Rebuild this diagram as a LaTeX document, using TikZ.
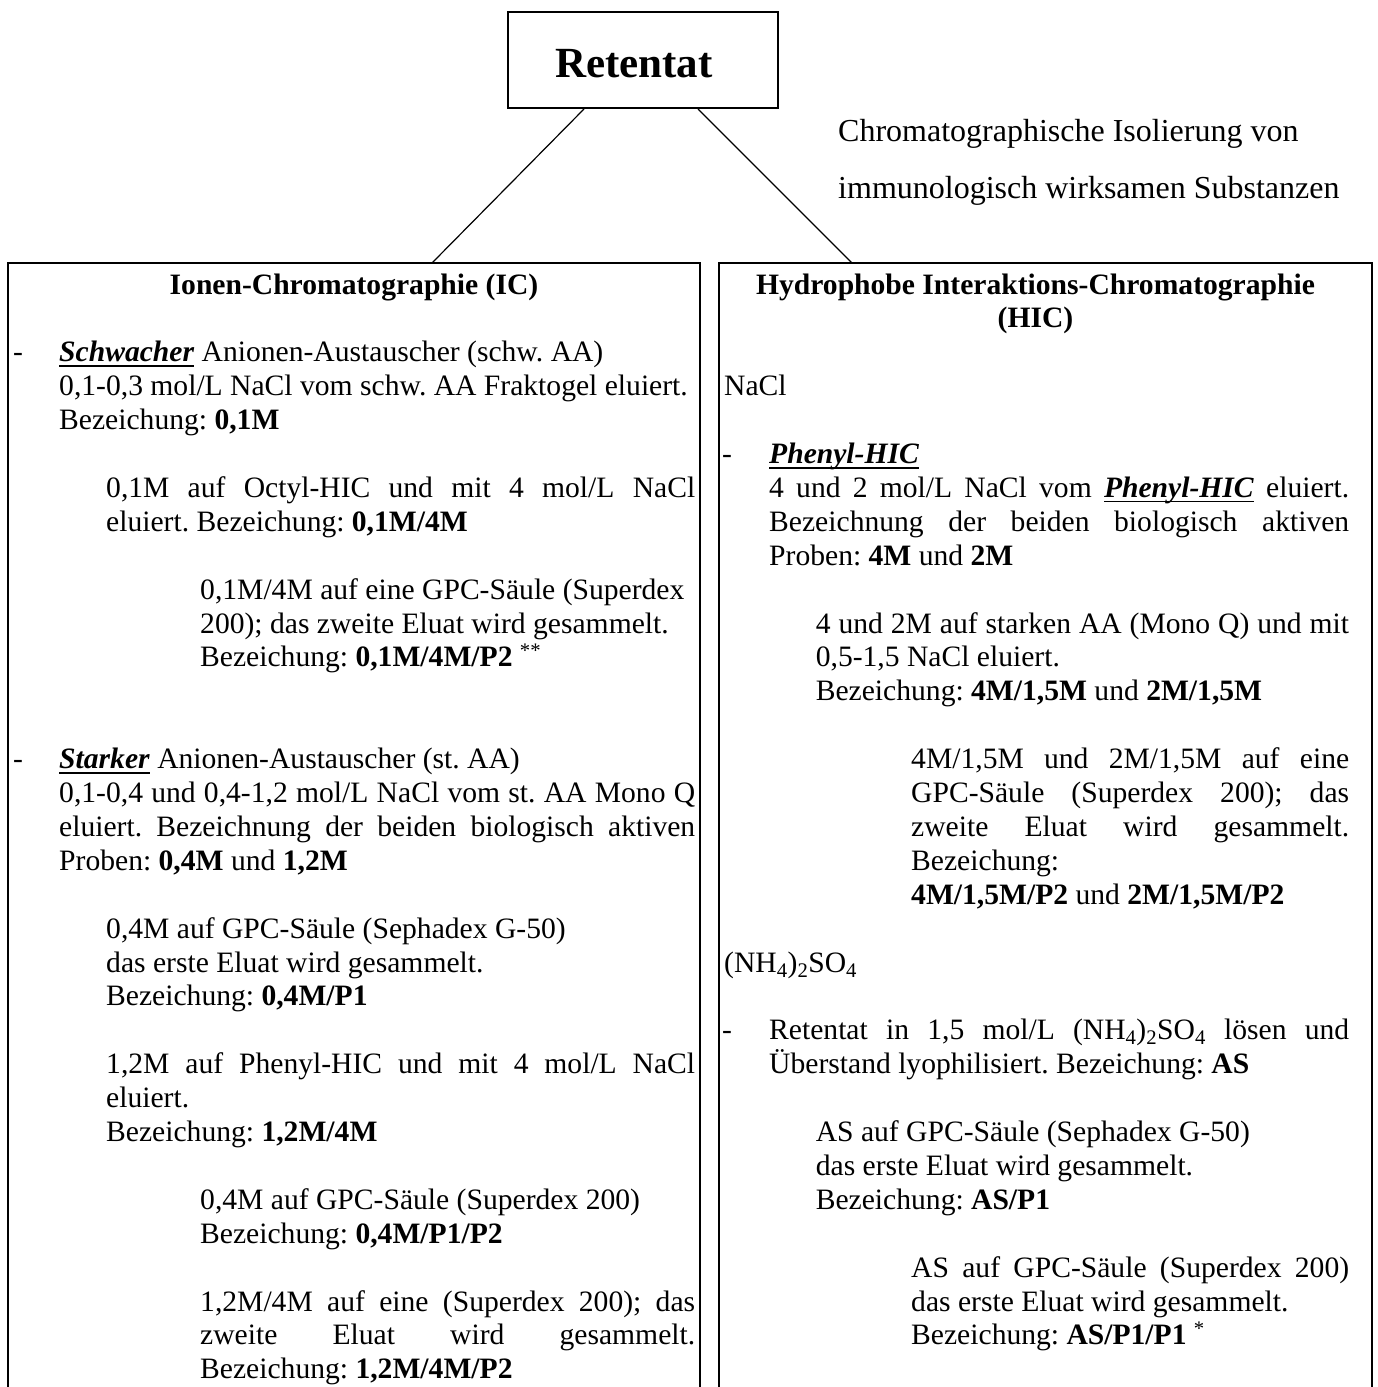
\documentclass[tikz,border=0pt]{standalone}
\usepackage{fontspec}
\setmainfont{Liberation Serif}
\usetikzlibrary{calc}

% underline at a fixed depth below the baseline
\newsavebox\ulbox
\newcommand\uln[1]{\sbox\ulbox{#1}\rlap{\rule[-5pt]{\wd\ulbox}{1.8pt}}\usebox\ulbox}
% bold italic underlined keyword
\newcommand\emp[1]{\uln{\textbf{\textit{#1}}}}
% a justified line stretched to a given width (pt)
\newcommand\just[2]{\makebox[#1pt][s]{#2}}
\newcommand\bodyfont{\fontsize{29.6pt}{33.9pt}\selectfont\frenchspacing}
% one line of text, placed by its baseline
\newcommand\pline[4]{\node[txt] (#1) at (#2,#3) {#4};}

\begin{document}
\begin{tikzpicture}[x=1pt,y=-1pt,
  txt/.style={anchor=base west, inner sep=0pt, font=\bodyfont},
  head/.style={anchor=base, inner sep=0pt, font=\bodyfont\bfseries},
  frame/.style={line width=2pt},
  link/.style={line width=1.2pt}]

\fill[white] (0,0) rectangle (1377,1387);
\useasboundingbox (0,0) rectangle (1377,1387);

% top box
\node[draw, frame, anchor=north west, inner sep=0pt,
      minimum width=270pt, minimum height=96pt] (ret) at (507,11) {};
\node[anchor=base west, inner sep=0pt,
      font=\fontsize{43pt}{50pt}\selectfont\bfseries] (ret-label) at (555,77) {Retentat};

% caption
\node[anchor=base west, inner sep=0pt, font=\fontsize{32pt}{36pt}\selectfont]
  (note1) at (838,141) {Chromatographische Isolierung von};
\node[anchor=base west, inner sep=0pt, font=\fontsize{32pt}{36pt}\selectfont]
  (note2) at (838,198) {immunologisch wirksamen Substanzen};

% the two open columns
\node[anchor=north west, inner sep=0pt, minimum width=692pt, minimum height=1124pt] (ic) at (8,263) {};
\node[anchor=north west, inner sep=0pt, minimum width=653pt, minimum height=1124pt] (hic) at (719,263) {};
\draw[frame] (ic.south west) |- (ic.north east) -- (ic.south east);
\draw[frame] (hic.south west) |- (hic.north east) -- (hic.south east);

% connectors
\draw[link] ($(ret.south west)+(77,0)$) -- ($(ic.north west)+(424,0)$);
\draw[link] ($(ret.south west)+(191,0)$) -- ($(hic.north west)+(133,0)$);

% ---- Ionen-Chromatographie ----
\node[head] (ic-title) at (354,294) {Ionen-Chromatographie (IC)};
\pline{ic-d1}{13}{361.8}{-}
\pline{ic-a1}{59}{361.8}{\emp{Schwacher} Anionen-Austauscher (schw. AA)}
\pline{ic-a2}{59}{395.7}{0,1-0,3 mol/L NaCl vom schw. AA Fraktogel eluiert.}
\pline{ic-a3}{59}{429.6}{Bezeichung: \textbf{0,1M}}
\pline{ic-b1}{106}{497.4}{\just{589}{0,1M auf Octyl-HIC und mit 4 mol/L NaCl}}
\pline{ic-b2}{106}{531.3}{eluiert. Bezeichung: \textbf{0,1M/4M}}
\pline{ic-c1}{200}{599.1}{0,1M/4M auf eine GPC-Säule (Superdex}
\pline{ic-c2}{200}{633.0}{200); das zweite Eluat wird gesammelt.}
\pline{ic-c3}{200}{666.9}{Bezeichung: \textbf{0,1M/4M/P2} \textsuperscript{**}}
\pline{ic-d2}{13}{768.6}{-}
\pline{ic-e1}{59}{768.6}{\emp{Starker} Anionen-Austauscher (st. AA)}
\pline{ic-e2}{59}{802.5}{\just{636}{0,1-0,4 und 0,4-1,2 mol/L NaCl vom st. AA Mono Q}}
\pline{ic-e3}{59}{836.4}{\just{636}{eluiert. Bezeichnung der beiden biologisch aktiven}}
\pline{ic-e4}{59}{870.3}{Proben: \textbf{0,4M} und \textbf{1,2M}}
\pline{ic-f1}{106}{938.1}{0,4M auf GPC-Säule (Sephadex G-50)}
\pline{ic-f2}{106}{972.0}{das erste Eluat wird gesammelt.}
\pline{ic-f3}{106}{1005.9}{Bezeichung: \textbf{0,4M/P1}}
\pline{ic-g1}{106}{1073.7}{\just{589}{1,2M auf Phenyl-HIC und mit 4 mol/L NaCl}}
\pline{ic-g2}{106}{1107.6}{eluiert.}
\pline{ic-g3}{106}{1141.5}{Bezeichung: \textbf{1,2M/4M}}
\pline{ic-h1}{200}{1209.3}{0,4M auf GPC-Säule (Superdex 200)}
\pline{ic-h2}{200}{1243.2}{Bezeichung: \textbf{0,4M/P1/P2}}
\pline{ic-i1}{200}{1311.0}{\just{495}{1,2M/4M auf eine (Superdex 200); das}}
\pline{ic-i2}{200}{1344.9}{\just{495}{zweite Eluat wird gesammelt.}}
\pline{ic-i3}{200}{1378.8}{Bezeichung: \textbf{1,2M/4M/P2}}

% ---- Hydrophobe Interaktions-Chromatographie ----
\node[head] (hic-title1) at (1035.5,294) {Hydrophobe Interaktions-Chromatographie};
\node[head] (hic-title2) at (1035.5,327.9) {(HIC)};
\pline{hic-a}{724}{395.7}{NaCl}
\pline{hic-d1}{722}{463.5}{-}
\pline{hic-b1}{769}{463.5}{\emp{Phenyl-HIC}}
\pline{hic-b2}{769}{497.4}{\just{580}{4 und 2 mol/L NaCl vom \emp{Phenyl-HIC} eluiert.}}
\pline{hic-b3}{769}{531.3}{\just{580}{Bezeichnung der beiden biologisch aktiven}}
\pline{hic-b4}{769}{565.2}{Proben: \textbf{4M} und \textbf{2M}}
\pline{hic-c1}{815.6}{633.0}{\just{533.4}{4 und 2M auf starken AA (Mono Q) und mit}}
\pline{hic-c2}{815.6}{666.9}{0,5-1,5 NaCl eluiert.}
\pline{hic-c3}{815.6}{700.8}{Bezeichung: \textbf{4M/1,5M} und \textbf{2M/1,5M}}
\pline{hic-e1}{911}{768.6}{\just{438}{4M/1,5M und 2M/1,5M auf eine}}
\pline{hic-e2}{911}{802.5}{\just{438}{GPC-Säule (Superdex 200); das}}
\pline{hic-e3}{911}{836.4}{\just{438}{zweite Eluat wird gesammelt.}}
\pline{hic-e4}{911}{870.3}{Bezeichung:}
\pline{hic-e5}{911}{904.2}{\textbf{4M/1,5M/P2} und \textbf{2M/1,5M/P2}}
\pline{hic-f}{724}{972.0}{(NH\textsubscript{4})\textsubscript{2}SO\textsubscript{4}}
\pline{hic-d2}{722}{1039.8}{-}
\pline{hic-g1}{769}{1039.8}{\just{580}{Retentat in 1,5 mol/L (NH\textsubscript{4})\textsubscript{2}SO\textsubscript{4} lösen und}}
\pline{hic-g2}{769}{1073.7}{Überstand lyophilisiert. Bezeichung: \textbf{AS}}
\pline{hic-h1}{815.6}{1141.5}{AS auf GPC-Säule (Sephadex G-50)}
\pline{hic-h2}{815.6}{1175.4}{das erste Eluat wird gesammelt.}
\pline{hic-h3}{815.6}{1209.3}{Bezeichung: \textbf{AS/P1}}
\pline{hic-i1}{911}{1277.1}{\just{438}{AS auf GPC-Säule (Superdex 200)}}
\pline{hic-i2}{911}{1311.0}{das erste Eluat wird gesammelt.}
\pline{hic-i3}{911}{1344.9}{Bezeichung: \textbf{AS/P1/P1} \textsuperscript{*}}

\end{tikzpicture}
\end{document}
